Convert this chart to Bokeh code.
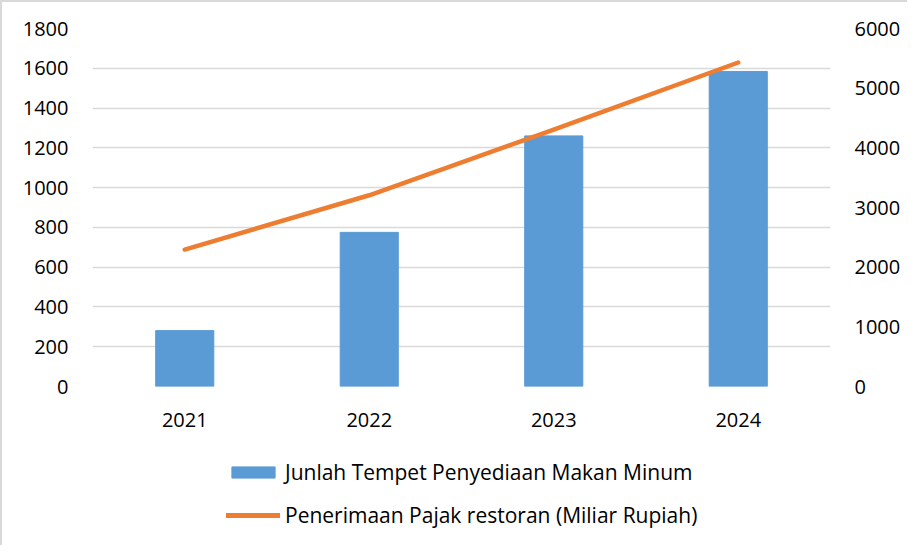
from bokeh.plotting import figure
from bokeh.models import Range1d, LinearAxis, FactorRange, Legend, LegendItem, FixedTicker
from bokeh.layouts import column
from bokeh.embed import file_html
from bokeh.resources import INLINE

years = ["2021", "2022", "2023", "2024"]
jumlah_tempat = [281, 775, 1260, 1584]
pajak_restoran = [2295, 3205, 4305, 5430]
left_ticks = [0, 200, 400, 600, 800, 1000, 1200, 1400, 1600, 1800]
right_ticks = [0, 1000, 2000, 3000, 4000, 5000, 6000]
bar_label = "Junlah Tempet Penyediaan Makan Minum"
line_label = "Penerimaan Pajak restoran (Miliar Rupiah)"

FONT = "Open Sans"
FS = "20px"
BAR_COLOR = "#5b9bd5"
LINE_COLOR = "#ed7d31"

p = figure(x_range=FactorRange(*years, range_padding=0), y_range=Range1d(0, 1800),
           width=905, height=440, output_backend="svg", toolbar_location=None,
           min_border_left=90, min_border_right=77, min_border_top=26, min_border_bottom=56)
p.extra_y_ranges = {"right": Range1d(0, 6000)}

p.vbar(x=years, top=jumlah_tempat, width=0.315, color=BAR_COLOR)
p.line(x=years, y=pajak_restoran, y_range_name="right", color=LINE_COLOR,
       line_width=4.5, line_cap="round", line_join="round")

p.outline_line_color = None
p.xgrid.grid_line_color = None
p.ygrid.grid_line_color = "#d9d9d9"
p.ygrid.grid_line_width = 1.5
p.yaxis.ticker = FixedTicker(ticks=left_ticks)

for ax in [p.xaxis[0], p.yaxis[0]]:
    ax.axis_line_color = None
    ax.major_tick_line_color = None
    ax.minor_tick_line_color = None
    ax.major_label_text_font = FONT
    ax.major_label_text_font_size = FS
    ax.major_label_text_color = "#000000"
p.yaxis.major_label_standoff = 18
p.xaxis.major_label_standoff = 20

raxis = LinearAxis(y_range_name="right", ticker=FixedTicker(ticks=right_ticks),
                   axis_line_color=None, major_tick_line_color=None, minor_tick_line_color=None,
                   major_label_text_font=FONT, major_label_text_font_size=FS,
                   major_label_text_color="#000000", major_label_standoff=18)
p.add_layout(raxis, "right")

# legend panel below the chart (its frame is aligned with the chart's frame)
q = figure(x_range=Range1d(0, 1), y_range=Range1d(0, 1), width=905, height=103,
           output_backend="svg", toolbar_location=None,
           min_border_left=0, min_border_right=0, min_border_top=0, min_border_bottom=0)
q.axis.visible = False
q.grid.visible = False
q.outline_line_color = None
# zero-size proxies that only provide the legend swatches
lb = q.vbar(x=[0], top=[0], bottom=[0], width=0, color=BAR_COLOR)
ll = q.line(x=[0], y=[0], color=LINE_COLOR, line_width=5, line_cap="round")

legend = Legend(items=[LegendItem(label=bar_label, renderers=[lb]),
                       LegendItem(label=line_label, renderers=[ll])],
                orientation="vertical", location=(134, 16),
                label_text_font=FONT, label_text_font_size="21px", label_text_color="#000000",
                glyph_width=54, glyph_height=14, label_standoff=5, spacing=15,
                background_fill_alpha=0, border_line_color=None, padding=0, margin=0)
q.add_layout(legend, "center")

layout = column(p, q, spacing=0)
layout.styles = {"border-left": "2px solid #d9d9d9", "border-top": "2px solid #d9d9d9"}

open("out.html", "w").write(file_html(layout, INLINE))
